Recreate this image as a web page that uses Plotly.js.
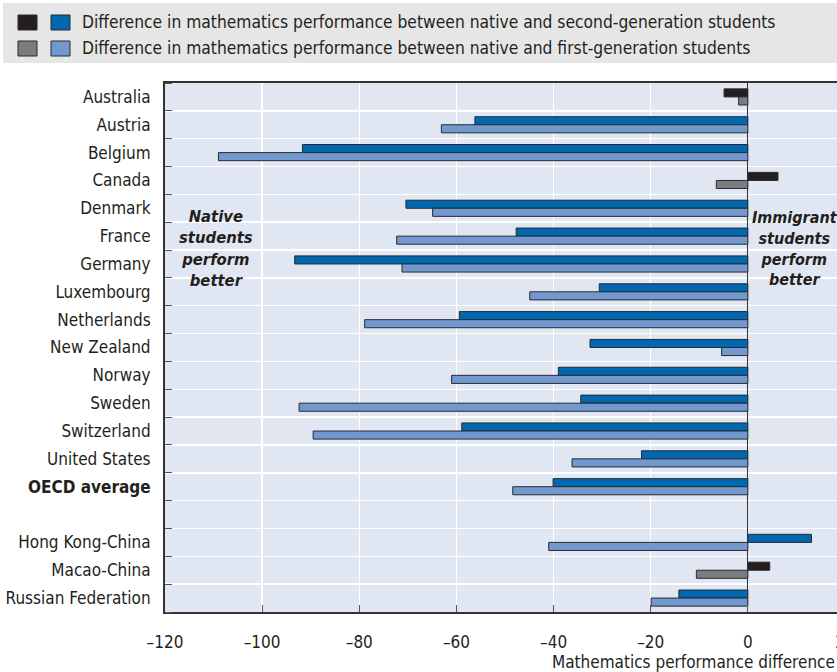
<!DOCTYPE html>
<html>
<head>
<meta charset="utf-8">
<script src="https://cdn.plot.ly/plotly-3.0.1.min.js"></script>
<style>
html,body{margin:0;padding:0;overflow:hidden;background:#fff;}
#chart{width:900px;height:672px;}
</style>
</head>
<body>
<div id="chart"></div>
<script>
// ---- data ----
var countries = ["Australia","Austria","Belgium","Canada","Denmark","France","Germany","Luxembourg","Netherlands","New Zealand","Norway","Sweden","Switzerland","United States","OECD average","","Hong Kong-China","Macao-China","Russian Federation"];
var secondGen = [-4.9,-56.2,-91.7,6.2,-70.4,-47.7,-93.3,-30.6,-59.4,-32.5,-39.0,-34.4,-58.9,-21.9,-40.1,null,13.1,4.5,-14.2];
var firstGen  = [-1.9,-63.1,-109.0,-6.5,-64.9,-72.3,-71.2,-44.9,-78.9,-5.4,-61.0,-92.4,-89.5,-36.2,-48.4,null,-41.0,-10.6,-19.9];
// 1 = statistically significant difference, 0 = not significant
var secondSig = [0,1,1,0,1,1,1,1,1,1,1,1,1,1,1,0,1,0,1];
var firstSig  = [0,1,1,0,1,1,1,1,1,1,1,1,1,1,1,0,1,0,1];
var xTickVals = [-120,-100,-80,-60,-40,-20,0,20];
var xTickText = ["–120","–100","–80","–60","–40","–20","0","20"];
var legendLabels = ["Difference in mathematics performance between native and second-generation students",
                    "Difference in mathematics performance between native and first-generation students"];
var xTitle = "Mathematics performance difference";
var leftNote = "Native<br>students<br>perform<br>better";
var rightNote = "Immigrant<br>students<br>perform<br>better";

// ---- styles ----
var FONT = "'Liberation Sans Narrow','DejaVu Sans Condensed',Arial,sans-serif";
var DARKBLUE = "#0067b1", LIGHTBLUE = "#7199d0", BLACK = "#231f20", GREY = "#7b7c7f";
var rows = countries.map(function(_, i){ return i; });
var labels = countries.map(function(c){ return c === "OECD average" ? "<b>" + c + "</b>" : c; });

var t1 = {
  type: "bar", orientation: "h", x: secondGen, y: rows,
  marker: {color: secondSig.map(function(s){ return s ? DARKBLUE : BLACK; }), line: {color: "#2a2a2a", width: 1}},
  hoverinfo: "x", showlegend: false
};
var t2 = {
  type: "bar", orientation: "h", x: firstGen, y: rows,
  marker: {color: firstSig.map(function(s){ return s ? LIGHTBLUE : GREY; }), line: {color: "#2a2a2a", width: 1}},
  hoverinfo: "x", showlegend: false
};

// plot area: left 165px, right 845px (value 20), top 83px, bottom 612px
var L = 165, R = 845, T = 83, B = 612;
function px2paperX(p){ return (p - L) / (R - L); }
function px2paperY(p){ return (B - p) / (B - T); }

var shapes = [
  {type:"rect", xref:"paper", yref:"paper", x0:px2paperX(3), x1:px2paperX(900), y0:px2paperY(63), y1:px2paperY(3), fillcolor:"#e6e6e6", line:{width:0}, layer:"below"},
  {type:"rect", xref:"paper", yref:"paper", x0:px2paperX(18), x1:px2paperX(37), y0:px2paperY(30), y1:px2paperY(15), fillcolor:BLACK, line:{color:"#2a2a2a",width:1}},
  {type:"rect", xref:"paper", yref:"paper", x0:px2paperX(51), x1:px2paperX(70), y0:px2paperY(30), y1:px2paperY(15), fillcolor:DARKBLUE, line:{color:"#2a2a2a",width:1}},
  {type:"rect", xref:"paper", yref:"paper", x0:px2paperX(18), x1:px2paperX(37), y0:px2paperY(56), y1:px2paperY(41), fillcolor:GREY, line:{color:"#2a2a2a",width:1}},
  {type:"rect", xref:"paper", yref:"paper", x0:px2paperX(51), x1:px2paperX(70), y0:px2paperY(56), y1:px2paperY(41), fillcolor:LIGHTBLUE, line:{color:"#2a2a2a",width:1}}
];

var annotations = [
  {xref:"paper", yref:"paper", x:px2paperX(80), y:px2paperY(22), xanchor:"left", yanchor:"middle", text:legendLabels[0], showarrow:false, font:{family:FONT, size:17.3, color:"#231f20"}},
  {xref:"paper", yref:"paper", x:px2paperX(80), y:px2paperY(48), xanchor:"left", yanchor:"middle", text:legendLabels[1], showarrow:false, font:{family:FONT, size:17.3, color:"#231f20"}},
  {xref:"x", yref:"y", x:-109.5, y:5.43, xanchor:"center", yanchor:"middle", text:"<b><i>"+leftNote+"</i></b>", showarrow:false, align:"center", font:{family:FONT, size:16.5, color:"#231f20"}},
  {xref:"x", yref:"y", x:9.8, y:5.43, xanchor:"center", yanchor:"middle", text:"<b><i>"+rightNote+"</i></b>", showarrow:false, align:"center", font:{family:FONT, size:16, color:"#231f20"}},
  {xref:"paper", yref:"paper", x:px2paperX(837), y:px2paperY(662), xanchor:"right", yanchor:"middle", text:xTitle, showarrow:false, font:{family:FONT, size:17, color:"#231f20"}}
];

var layout = {
  width: 900, height: 672,
  margin: {l: L, r: 900 - R, t: T, b: 672 - B, pad: 0},
  paper_bgcolor: "#ffffff", plot_bgcolor: "#e1e6f3",
  barmode: "group", bargap: 0.42, bargroupgap: 0,
  font: {family: FONT, size: 17, color: "#231f20"},
  xaxis: {
    range: [-120, 20], tickmode: "array", tickvals: xTickVals, ticktext: xTickText,
    showgrid: true, gridcolor: "#ffffff", gridwidth: 1.5,
    zeroline: true, zerolinecolor: "#333333", zerolinewidth: 1,
    showline: true, linecolor: "#333333", linewidth: 2, mirror: true,
    ticks: "inside", ticklen: 7, tickcolor: "#555555", tickwidth: 1,
    ticklabelstandoff: 14, tickfont: {family: FONT, size: 17, color: "#231f20"}, fixedrange: true
  },
  yaxis: {
    range: [18.5, -0.5], tickmode: "array", tickvals: rows, ticktext: labels,
    showgrid: false, zeroline: false,
    showline: true, linecolor: "#333333", linewidth: 2, mirror: true,
    ticks: "", ticklabelstandoff: 9, tickfont: {family: FONT, size: 17, color: "#231f20"},
    minor: {tickmode: "linear", tick0: 0.5, dtick: 1, showgrid: true, gridcolor: "#ffffff", gridwidth: 1.5, ticks: "inside", ticklen: 7, tickcolor: "#555555", tickwidth: 1},
    fixedrange: true
  },
  shapes: shapes,
  annotations: annotations
};

Plotly.newPlot("chart", [t1, t2], layout, {displayModeBar: false, staticPlot: true});
</script>
</body>
</html>
